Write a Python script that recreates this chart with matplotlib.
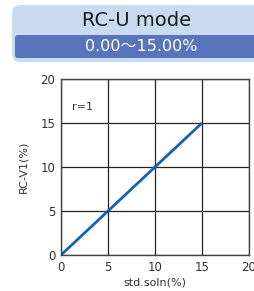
import matplotlib.pyplot as plt
from matplotlib.patches import FancyBboxPatch

plt.rcParams['font.family'] = ['DejaVu Sans', 'Noto Sans CJK JP']

# data
x_vals = [0, 15]
y_vals = [0, 15]
ticks = [0, 5, 10, 15, 20]
title = 'RC-U mode'
subtitle = '0.00〜15.00%'

W, H = 254, 291
fig = plt.figure(figsize=(W / 100, H / 100), dpi=100)

def box(x0, y0, x1, y1):
    # pixel coords (top-left origin) -> figure fraction
    return x0 / W, 1 - y1 / H, (x1 - x0) / W, (y1 - y0) / H

# header boxes
bx, by, bw, bh = box(12, 5, 270, 62)
fig.patches.append(FancyBboxPatch((bx, by), bw, bh, boxstyle='round,pad=0,rounding_size=0.03',
                                  transform=fig.transFigure, facecolor='#c9dbf0', edgecolor='none'))
bx, by, bw, bh = box(15, 35, 270, 58)
fig.patches.append(FancyBboxPatch((bx, by), bw, bh, boxstyle='round,pad=0,rounding_size=0.01',
                                  transform=fig.transFigure, facecolor='#5874bb', edgecolor='none'))
fig.text(137 / W, 1 - 21 / H, title, ha='center', va='center', fontsize=14, color='#1a1a1a')
fig.text(141 / W, 1 - 46.5 / H, subtitle, ha='center', va='center', fontsize=11.5, color='white')

ax = fig.add_axes([61 / W, 1 - 255 / H, 188 / W, 176 / H])
ax.plot(x_vals, y_vals, color='#1462b4', lw=2, solid_capstyle='butt')
ax.set_xlim(0, 20)
ax.set_ylim(0, 20)
ax.set_xticks(ticks)
ax.set_yticks(ticks)
ax.set_xticklabels([str(t) for t in ticks], fontsize=8.5, color='#333333')
ax.set_yticklabels([str(t) for t in ticks], fontsize=8.5, color='#333333')
ax.tick_params(length=0, pad=4)
ax.grid(True, color='#222222', lw=0.9)
ax.set_axisbelow(True)
for s in ax.spines.values():
    s.set_color('#444444')
    s.set_linewidth(1)
ax.set_xlabel('std.soln(%)', fontsize=8, color='#333333', labelpad=3)
ax.set_ylabel('RC-V1(%)', fontsize=8, color='#333333', labelpad=9)
ax.text(2.3, 16.8, 'r=1', fontsize=8, color='#333333', ha='center', va='center')

fig.savefig('out.png', dpi=100)
